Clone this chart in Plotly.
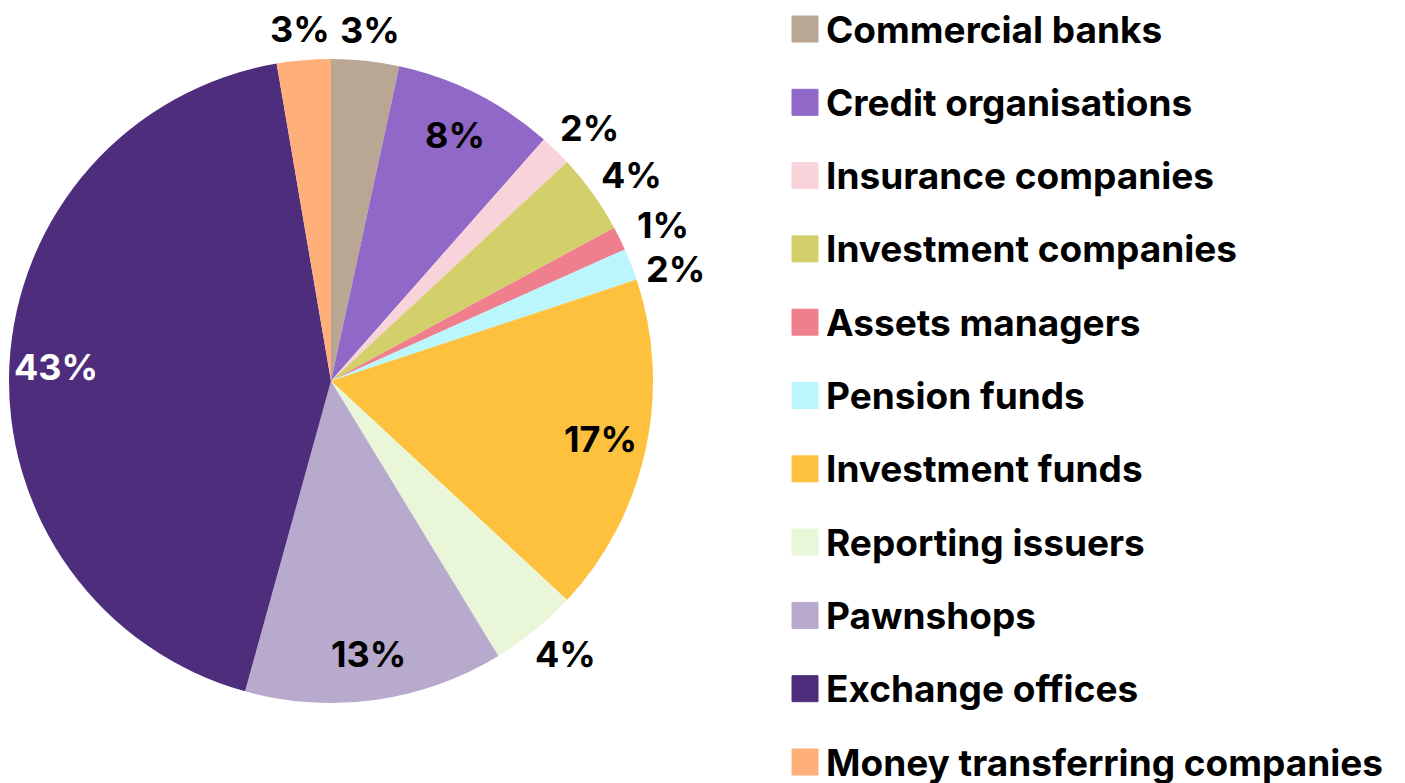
import math
import plotly.graph_objects as go

categories = ["Commercial banks", "Credit organisations", "Insurance companies",
              "Investment companies", "Assets managers", "Pension funds",
              "Investment funds", "Reporting issuers", "Pawnshops",
              "Exchange offices", "Money transferring companies"]
shares = [3.4, 8.1, 1.6, 4.0, 1.2, 1.6, 17.0, 4.4, 13.0, 43.0, 2.7]
colors = ["#B9A794", "#9069C8", "#F9D3DA", "#D3D06B", "#F07F8E", "#BAF6FB",
          "#FDC13E", "#E9F6D7", "#B8AACC", "#4E2D7D", "#FFB07A"]
label_inside = [False, True, False, False, False, False,
                True, False, True, True, False]
label_color = ["black"] * 9 + ["white", "black"]

# page offset (browser body margin) and figure size
OFF = 8
W, H = 1405 - OFF, 783
FONT = "Inter"
LBL_SIZE = 36
LEG_SIZE = 37
WEIGHT = 700

def X(px):
    return (px - OFF) / W

def Y(py):
    return 1 - (py - OFF) / H

# pie geometry in screen pixels
CX, CY, R = 331, 381, 322

fig = go.Figure()
fig.add_trace(go.Pie(
    labels=categories, values=shares, sort=False, direction="clockwise",
    rotation=0,
    marker=dict(colors=colors, line=dict(width=0)),
    textinfo="none",
    showlegend=False, hoverinfo="label+percent",
    domain=dict(x=[X(CX - R), X(CX + R)], y=[Y(CY + R), Y(CY - R)]),
))

# slice labels placed along each slice's bisector
total = sum(shares)
cum = 0.0
prev_right_y = None
for s, inside, col in zip(shares, label_inside, label_color):
    mid = (cum + s / 2) / total * 2 * math.pi
    cum += s
    txt = f"{round(s / total * 100)}%"
    sx, sy = math.sin(mid), -math.cos(mid)
    if inside:
        r = 0.855 * R
        px, py = CX + r * sx, CY + r * sy
    else:
        half_w, half_h, gap = 28, 11, 20
        px = CX + (R + gap + half_w) * sx
        py = CY + (R + gap + half_h) * sy
        # avoid collisions between neighbouring labels on the right side
        if sx > 0.3 and py < CY:
            if prev_right_y is not None and py < prev_right_y + 44:
                py = prev_right_y + 44
            prev_right_y = py
    fig.add_annotation(text=txt, xref="paper", yref="paper", x=X(px), y=Y(py),
                       xanchor="center", yanchor="middle", showarrow=False,
                       borderpad=0,
                       font=dict(family=FONT, size=LBL_SIZE, color=col, weight=WEIGHT))

# legend
y0, step = 29, 73.3
for i, (name, c) in enumerate(zip(categories, colors)):
    yc = y0 + i * step
    fig.add_shape(type="rect", xref="paper", yref="paper",
                  x0=X(792), x1=X(818), y0=Y(yc + 13), y1=Y(yc - 13),
                  fillcolor=c, line=dict(color=c, width=1))
    fig.add_annotation(text=name, xref="paper", yref="paper",
                       x=X(825), y=Y(yc), xanchor="left", yanchor="middle",
                       showarrow=False, borderpad=0,
                       font=dict(family=FONT, size=LEG_SIZE, color="black", weight=WEIGHT))

fig.update_layout(width=W, height=H, margin=dict(l=0, r=0, t=0, b=0),
                  paper_bgcolor="white", plot_bgcolor="white")
fig.write_html("out.html")
